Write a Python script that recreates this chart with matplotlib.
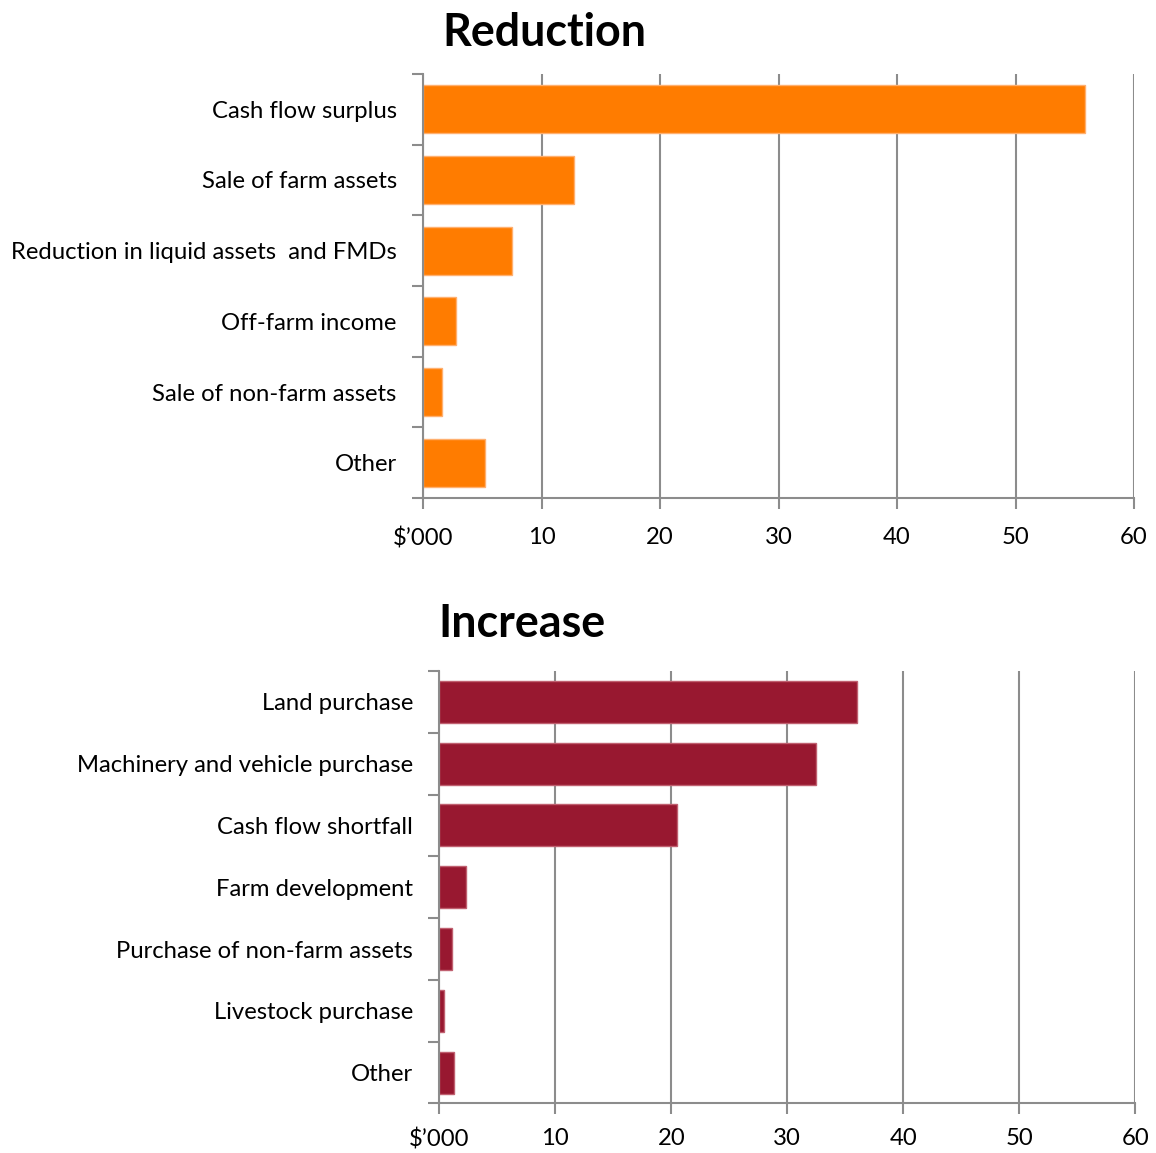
import numpy as np
import matplotlib.pyplot as plt

# data
reduction_labels = ["Cash flow surplus", "Sale of farm assets",
                    "Reduction in liquid assets  and FMDs", "Off-farm income",
                    "Sale of non-farm assets", "Other"]
reduction_values = [55.9, 12.7, 7.5, 2.8, 1.6, 5.2]

increase_labels = ["Land purchase", "Machinery and vehicle purchase",
                   "Cash flow shortfall", "Farm development",
                   "Purchase of non-farm assets", "Livestock purchase", "Other"]
increase_values = [36.0, 32.5, 20.5, 2.3, 1.1, 0.4, 1.3]

xticks = [0, 10, 20, 30, 40, 50, 60]
xticklabels = ["$\u2019000", "10", "20", "30", "40", "50", "60"]

plt.rcParams['font.family'] = ['Lato', 'DejaVu Sans']
grey = '#8c8c8c'

fig = plt.figure(figsize=(11.56, 11.53), dpi=100)
ax1 = fig.add_axes([0.366, 0.568, 0.615, 0.368])
ax2 = fig.add_axes([0.380, 0.043, 0.602, 0.375])


def style(ax, labels, values, color, edge, title, title_x, title_y, xpad):
    n = len(labels)
    pos = np.arange(n)
    ax.set_axisbelow(True)
    ax.xaxis.grid(True, color=grey, lw=1.5)
    ax.barh(pos, values, height=0.68, color=color, edgecolor=edge, lw=1)
    ax.set_xlim(0, 60)
    ax.set_ylim(n - 0.5, -0.5)
    ax.set_xticks(xticks)
    ax.set_xticklabels(xticklabels)
    ax.set_yticks(pos)
    ax.set_yticklabels(labels, va='center_baseline')
    ax.set_yticks(np.arange(n + 1) - 0.5, minor=True)
    ax.tick_params(axis='y', which='major', length=0, pad=19, labelsize=17.2)
    ax.tick_params(axis='y', which='minor', length=8, width=1.5, color=grey)
    ax.tick_params(axis='x', length=8, width=1.5, color=grey, pad=xpad, labelsize=17.2)
    for s in ['top', 'right']:
        ax.spines[s].set_visible(False)
    for s in ['left', 'bottom']:
        ax.spines[s].set_color(grey)
        ax.spines[s].set_linewidth(1.5)
    fig.text(title_x, title_y, title, fontsize=32.3, fontweight='bold',
             ha='left', va='center')


style(ax1, reduction_labels, reduction_values, '#ff7c00', '#ffb070',
      "Reduction", 0.383, 0.971, 13)
style(ax2, increase_labels, increase_values, '#981830', '#c06070',
      "Increase", 0.379, 0.459, 10)

fig.savefig("out.png", dpi=100)
